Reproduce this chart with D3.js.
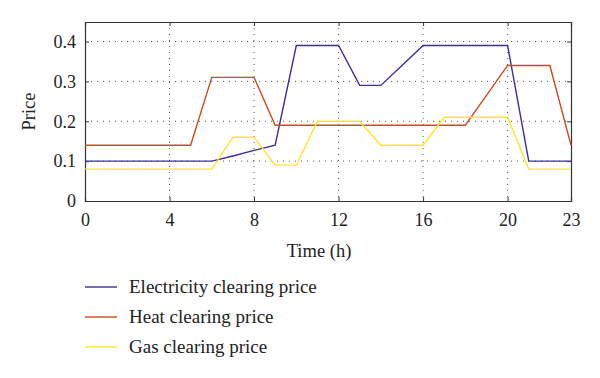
<!DOCTYPE html>
<html>
<head>
<meta charset="utf-8">
<script src="https://cdn.jsdelivr.net/npm/d3@7"></script>
<style>
  body { margin: 0; background: #fff; }
  text { font-family: "Liberation Serif", "DejaVu Serif", serif; fill: #222; }
</style>
</head>
<body>
<div id="chart"></div>
<script>
// hours and prices
const hours = d3.range(0, 24);
const electricity = [0.1, 0.1, 0.1, 0.1, 0.1, 0.1, 0.1, 0.113, 0.127, 0.14, 0.39, 0.39,
    0.39, 0.29, 0.29, 0.34, 0.39, 0.39, 0.39, 0.39, 0.39, 0.1, 0.1, 0.1];
const heat = [0.14, 0.14, 0.14, 0.14, 0.14, 0.14, 0.31, 0.31, 0.31, 0.19, 0.19, 0.19,
    0.19, 0.19, 0.19, 0.19, 0.19, 0.19, 0.19, 0.265, 0.34, 0.34, 0.34, 0.14];
const gas = [0.08, 0.08, 0.08, 0.08, 0.08, 0.08, 0.08, 0.16, 0.16, 0.09, 0.09, 0.2,
    0.2, 0.2, 0.14, 0.14, 0.14, 0.21, 0.21, 0.21, 0.21, 0.08, 0.08, 0.08];
const xTicks = [0, 4, 8, 12, 16, 20, 23];
const yTicks = [0, 0.1, 0.2, 0.3, 0.4];
const seriesNames = ['Electricity clearing price', 'Heat clearing price', 'Gas clearing price'];

const colors = ['#3b2f9c', '#d0481c', '#ffe42a'];
const series = [electricity, heat, gas];

const margin = {top: 22, right: 29, left: 85};
const width = 571 - margin.left,
    height = 201 - margin.top;

const svg = d3.select('#chart').append('svg')
    .attr('width', 600)
    .attr('height', 378);

const g = svg.append('g')
    .attr('transform', 'translate(' + margin.left + ',' + margin.top + ')');

const x = d3.scaleLinear().domain([0, 23]).range([0, width]);
const y = d3.scaleLinear().domain([0, 0.449]).range([height, 0]);

// dotted grid
g.selectAll('.vgrid')
    .data(xTicks.filter(d => d > 0 && d < 23))
    .enter().append('line')
    .attr('x1', d => x(d)).attr('x2', d => x(d))
    .attr('y1', 0).attr('y2', height)
    .attr('stroke', '#555')
    .attr('stroke-width', 1)
    .attr('stroke-dasharray', '1,5');

g.selectAll('.hgrid')
    .data(yTicks.filter(d => d > 0))
    .enter().append('line')
    .attr('x1', 0).attr('x2', width)
    .attr('y1', d => y(d)).attr('y2', d => y(d))
    .attr('stroke', '#555')
    .attr('stroke-width', 1)
    .attr('stroke-dasharray', '1,5');

// axes with inward ticks
const xAxis = g.append('g')
    .attr('transform', 'translate(0,' + height + ')')
    .call(d3.axisBottom(x).tickValues(xTicks).tickSize(-4).tickPadding(12).tickFormat(d3.format('d')));
const xTop = g.append('g')
    .call(d3.axisTop(x).tickValues(xTicks).tickSize(-4).tickFormat(''));
const yAxis = g.append('g')
    .call(d3.axisLeft(y).tickValues(yTicks).tickSize(-4).tickPadding(9)
        .tickFormat(d => d === 0 ? '0' : d3.format('.1f')(d)));
const yRight = g.append('g')
    .attr('transform', 'translate(' + width + ',0)')
    .call(d3.axisRight(y).tickValues(yTicks).tickSize(-4).tickFormat(''));

[xAxis, xTop, yAxis, yRight].forEach(a => {
    a.attr('font-family', '"Liberation Serif", serif').attr('font-size', 18);
    a.select('.domain').attr('stroke', '#333').attr('stroke-width', 1.2);
    a.selectAll('.tick line').attr('stroke', '#333');
    a.selectAll('text')
        .style('font-size', '18px')
        .attr('fill', '#222');
});

// lines
const line = d3.line()
    .x((d, i) => x(hours[i]))
    .y(d => y(d));

series.forEach((s, i) => {
    g.append('path')
        .datum(s)
        .attr('fill', 'none')
        .attr('stroke', colors[i])
        .attr('stroke-width', 1.4)
        .attr('d', line);
});

// axis labels
svg.append('text')
    .attr('transform', 'translate(35,' + (margin.top + height / 2) + ') rotate(-90)')
    .style('text-anchor', 'middle')
    .style('font-size', '18.5px')
    .text('Price');

svg.append('text')
    .attr('x', 319)
    .attr('y', 257)
    .style('text-anchor', 'middle')
    .style('font-size', '18.5px')
    .text('Time (h)');

// legend
const legend = svg.append('g').attr('transform', 'translate(85,287)');
seriesNames.forEach((name, i) => {
    legend.append('line')
        .attr('x1', 0).attr('x2', 32)
        .attr('y1', i * 30).attr('y2', i * 30)
        .attr('stroke', colors[i])
        .attr('stroke-width', 1.4);
    legend.append('text')
        .attr('x', 44)
        .attr('y', i * 30)
        .attr('dy', '0.32em')
        .style('font-size', '19px')
        .text(name);
});
</script>
</body>
</html>
